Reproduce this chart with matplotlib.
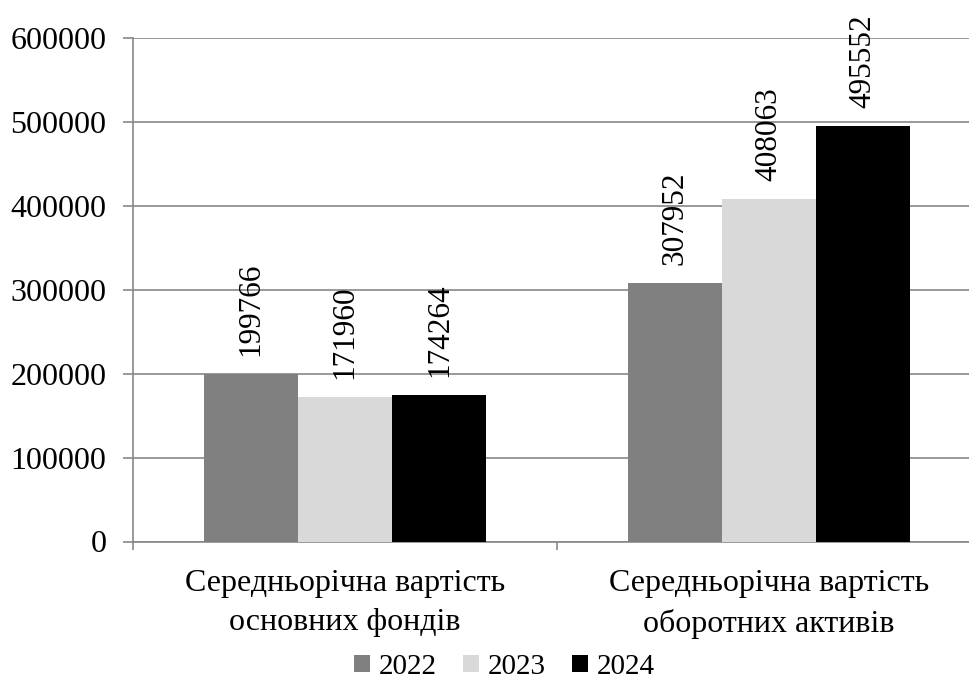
import matplotlib
matplotlib.use("Agg")
import matplotlib.pyplot as plt
import numpy as np

categories = ["Середньорічна вартість\nосновних фондів", "Середньорічна вартість\nоборотних активів"]
years = ["2022", "2023", "2024"]
values = {
    "2022": [199766, 307952],
    "2023": [171960, 408063],
    "2024": [174264, 495552],
}
colors = {"2022": "#808080", "2023": "#d9d9d9", "2024": "#000000"}
yticks = [0, 100000, 200000, 300000, 400000, 500000, 600000]

FAM = "Liberation Serif"
plt.rcParams['font.family'] = FAM
plt.rcParams['font.serif'] = [FAM, "DejaVu Serif"]
FS = 23

fig = plt.figure(figsize=(9.69, 6.8), dpi=100)
W, H = 969, 680
SP = 424
ax = fig.add_axes([133 / W, 1 - 541.5 / H, (W - 133) / W, (541.5 - 38) / H])

x = np.arange(len(categories))
bw = 0.2224
for i, yr in enumerate(years):
    pos = x + (i - 1) * bw
    ax.bar(pos, values[yr], width=bw, color=colors[yr], label=yr, zorder=3)
    for p, v in zip(pos, values[yr]):
        ax.annotate(str(v), (p, v), xytext=(0, 13), textcoords="offset points",
                    rotation=90, ha="center", va="bottom", fontsize=22.5, family=FAM)

ax.set_yticks(yticks)
ax.set_yticklabels([str(t) for t in yticks], fontsize=FS, family=FAM)
ax.yaxis.grid(True, color="#888888", linewidth=1.2, zorder=0)
ax.tick_params(axis="y", length=7.2, color="#888888", width=1.2, pad=12)

ax.set_xticks([-0.5, 0.5])
ax.set_xticklabels([])
ax.set_xticks(x, minor=True)
ax.set_xticklabels(categories, minor=True, fontsize=FS, family=FAM, linespacing=1.45)
ax.tick_params(axis="x", which="major", length=6, color="#888888", width=1.2)
ax.tick_params(axis="x", which="minor", length=0, pad=20)

ax.set_ylim(0, 600000)
ax.set_xlim(-0.5, (W - 133) / SP - 0.5)

for s in ["top", "right"]:
    ax.spines[s].set_visible(False)
for s in ["left", "bottom"]:
    ax.spines[s].set_color("#888888")
    ax.spines[s].set_linewidth(1.2)

fig.legend(loc="center", bbox_to_anchor=(504 / W, 1 - 667 / H), ncol=3, frameon=False,
           prop={"family": FAM, "size": 21}, handlelength=0.55, handleheight=0.55,
           handletextpad=0.3, columnspacing=0.9, borderaxespad=0)

fig.savefig("out.png", dpi=100)
